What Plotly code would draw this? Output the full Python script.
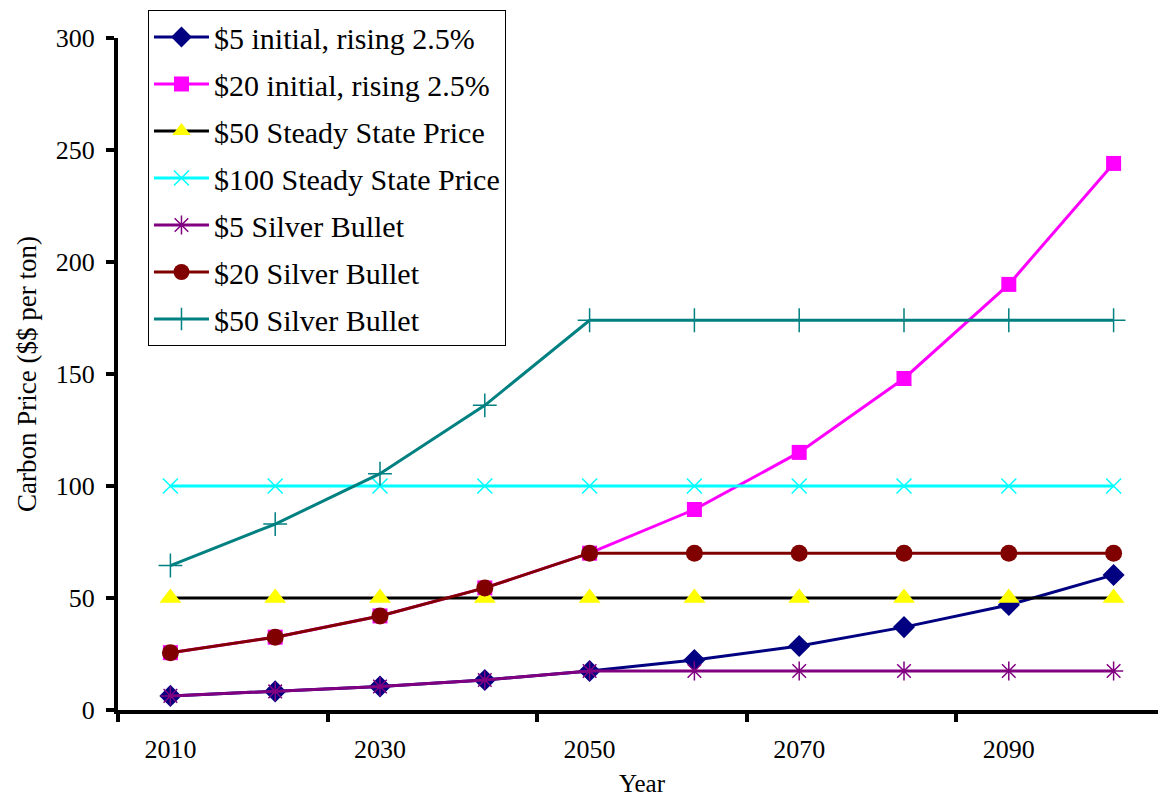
import plotly.graph_objects as go

# ---------------------------------------------------------------------------
# Data
# ---------------------------------------------------------------------------
YEARS = [2010, 2020, 2030, 2040, 2050, 2060, 2070, 2080, 2090, 2100]
TICK_YEARS = [2010, 2030, 2050, 2070, 2090]
BOUNDARY_YEARS = [2005, 2025, 2045, 2065, 2085, 2105]

RISING_5 = [6.3, 8.3, 10.5, 13.4, 17.4, 22.3, 28.6, 37.0, 46.9, 60.3]
RISING_20 = [25.6, 32.5, 42.0, 54.5, 70.0, 89.5, 115.0, 148.0, 190.0, 244.0]
STEADY_50 = [50, 50, 50, 50, 50, 50, 50, 50, 50, 50]
STEADY_100 = [100, 100, 100, 100, 100, 100, 100, 100, 100, 100]
SILVER_5 = [6.3, 8.3, 10.5, 13.4, 17.4, 17.4, 17.4, 17.4, 17.4, 17.4]
SILVER_20 = [25.6, 32.5, 42.0, 54.5, 70.0, 70.0, 70.0, 70.0, 70.0, 70.0]
SILVER_50 = [64.5, 83.0, 105.5, 136.0, 174.0, 174.0, 174.0, 174.0, 174.0, 174.0]

FONT = "Liberation Serif"

SERIES = [
    ("$5 initial, rising 2.5%", RISING_5, "#000080", "diamond", "#000080", 17),
    ("$20 initial, rising 2.5%", RISING_20, "#FF00FF", "square", "#FF00FF", 15),
    ("$50 Steady State Price", STEADY_50, "#000000", "triangle-up", "#FFFF00", 19),
    ("$100 Steady State Price", STEADY_100, "#00FFFF", "x-thin-open", "#00FFFF", 15),
    ("$5 Silver Bullet", SILVER_5, "#800080", "asterisk-open", "#800080", 16),
    ("$20 Silver Bullet", SILVER_20, "#800000", "circle", "#800000", 17),
    ("$50 Silver Bullet", SILVER_50, "#008080", "cross-thin-open", "#008080", 17),
]

fig = go.Figure()
for i, (name, vals, line_c, sym, mark_c, size) in enumerate(SERIES):
    open_sym = sym.endswith("open")
    fig.add_trace(go.Scatter(
        x=YEARS, y=vals, name=name, mode="lines+markers",
        legendgroup=f"g{i}",
        line=dict(color=line_c, width=3),
        marker=dict(
            symbol=sym, size=size, color=mark_c,
            line=dict(color=mark_c, width=1.5 if open_sym else 0),
        ),
        cliponaxis=False,
    ))

# page body has an 8px margin, so the figure is 8px smaller and margins shifted
fig.update_layout(
    width=1158, height=789,
    paper_bgcolor="white", plot_bgcolor="white",
    font=dict(family=FONT, color="black", size=26),
    margin=dict(l=110, r=0, t=30, b=87),
    showlegend=True,
    legend=dict(
        x=0.0286, y=1.0417, xanchor="left", yanchor="top",
        bgcolor="white", bordercolor="black", borderwidth=1,
        font=dict(family=FONT, size=30, color="black"),
        tracegroupgap=5, itemwidth=55,
    ),
    xaxis=dict(
        range=[2005, 2105], automargin=False,
        tickmode="array", tickvals=TICK_YEARS,
        ticktext=[str(y) for y in TICK_YEARS],
        ticks="", ticklabelstandoff=13,
        tickfont=dict(family=FONT, size=26),
        showgrid=False, zeroline=False,
        showline=True, linecolor="black", linewidth=4,
        minor=dict(tickvals=BOUNDARY_YEARS, ticks="outside", ticklen=8,
                   tickwidth=4, tickcolor="black", showgrid=False),
        title=dict(text="Year", font=dict(family=FONT, size=25), standoff=12),
    ),
    yaxis=dict(
        range=[0, 300], tickmode="linear", tick0=0, dtick=50,
        automargin=False,
        ticks="outside", ticklen=8, tickwidth=4, tickcolor="black",
        ticklabelstandoff=6,
        tickfont=dict(family=FONT, size=26),
        showgrid=False, zeroline=False,
        showline=True, linecolor="black", linewidth=4,
        title=dict(text="Carbon Price ($$ per ton)", font=dict(family=FONT, size=27),
                   standoff=12),
    ),
)

fig.write_html("out.html")
